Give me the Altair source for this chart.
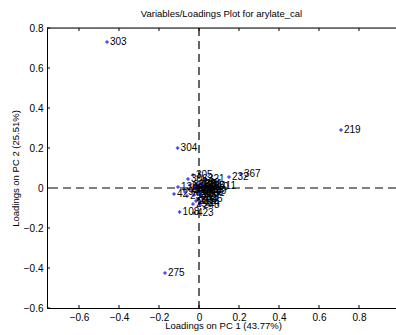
import altair as alt
import pandas as pd

# Variable loadings on the first two principal components
var_names = [
    "306", "303", "304", "219", "275", "367", "232", "305", "321", "411",
    "138", "42", "108", "423", "424", "427", "435", "12", "15", "27",
    "33", "48", "51", "310", "65", "71", "88", "94", "120", "144",
    "156", "167", "181", "199", "204", "215", "248", "256", "261",
    "293", "332", "345", "352", "378", "389",
]
pc1 = [
    -0.055, -0.46, -0.107, 0.71, -0.17, 0.21, 0.15, -0.03, 0.03, 0.09,
    -0.105, -0.125, -0.097, -0.025, 0.005, 0.01, 0.02, 0.0, 0.01, 0.02,
    -0.01, 0.03, 0.04, 0.05, -0.02, -0.035, -0.05, -0.07, 0.0, 0.015,
    0.005, -0.015, 0.02, -0.025, -0.005, -0.015, 0.005, -0.03, 0.03,
    -0.06, -0.01, 0.0, 0.03, -0.045, 0.04,
]
pc2 = [
    0.045, 0.73, 0.20, 0.29, -0.425, 0.07, 0.055, 0.065, 0.045, 0.01,
    0.005, -0.03, -0.12, -0.125, -0.075, -0.04, -0.055, 0.015, 0.0, -0.01,
    -0.02, 0.005, 0.015, 0.005, 0.0, -0.01, -0.005, -0.02, -0.03, -0.02,
    0.025, 0.02, 0.02, -0.035, -0.055, -0.065, -0.085, -0.08, -0.025,
    -0.04, 0.005, -0.01, -0.005, 0.015, -0.015,
]

x_ticks = [-0.6, -0.4, -0.2, 0.0, 0.2, 0.4, 0.6, 0.8]
y_ticks = [-0.6, -0.4, -0.2, 0.0, 0.2, 0.4, 0.6, 0.8]
x_domain = [-0.76, 0.985]
y_domain = [-0.6, 0.8]

df = pd.DataFrame({"name": var_names, "pc1": pc1, "pc2": pc2})

W, H = 349, 280
FONT = "Liberation Sans"
TICK_FMT = "datum.value == 0 ? '0' : format(datum.value, '.1f')"

xs = alt.Scale(domain=x_domain, nice=False, zero=False)
ys = alt.Scale(domain=y_domain, nice=False, zero=False)

x_axis = alt.Axis(values=x_ticks, ticks=False, grid=False, labelOverlap=False,
                  domainColor="black", labelColor="black", labelFontSize=10,
                  labelPadding=4, labelFont=FONT, title="Loadings on PC 1 (43.77%)",
                  titleFont=FONT, titleFontSize=9.5, titleFontWeight="normal",
                  titleColor="black", titleBaseline="middle",
                  titleX=176, titleY=17, labelExpr=TICK_FMT)
y_axis = alt.Axis(values=y_ticks, ticks=False, grid=False, labelOverlap=False,
                  domainColor="black", labelColor="black", labelFontSize=10,
                  labelPadding=4, labelFont=FONT, title="Loadings on PC 2 (25.51%)",
                  titleFont=FONT, titleFontSize=9.5, titleFontWeight="normal",
                  titleColor="black", titleBaseline="middle",
                  titleX=-32, titleY=H / 2, labelExpr=TICK_FMT)


def X(field):
    return alt.X(field, scale=xs, axis=x_axis)


def Y(field):
    return alt.Y(field, scale=ys, axis=y_axis)


base = alt.Chart(df)

points = base.mark_point(shape="cross", filled=True, size=12, color="#4040ff",
                         opacity=1).encode(x=X("pc1:Q"), y=Y("pc2:Q"))

labels = base.mark_text(align="left", baseline="middle", dx=3, fontSize=10,
                        font=FONT, color="black").encode(
    x=X("pc1:Q"), y=Y("pc2:Q"), text="name:N")

# Dashed zero lines
zero_df = pd.DataFrame({"z": [0.0]})
vline = alt.Chart(zero_df).mark_rule(color="black", strokeDash=[8, 5],
                                     strokeWidth=1.2).encode(x=X("z:Q"))
hline = alt.Chart(zero_df).mark_rule(color="black", strokeDash=[8, 5],
                                     strokeWidth=1.2).encode(y=Y("z:Q"))

# Inward-pointing tick marks on the frame
tick_len_x = 3 / H * (y_domain[1] - y_domain[0])
tick_len_y = 3 / W * (x_domain[1] - x_domain[0])
xt = pd.DataFrame({"v": x_ticks})
yt = pd.DataFrame({"v": y_ticks})
xt_bottom = alt.Chart(xt).transform_calculate(
    a=f"{y_domain[0]}", b=f"{y_domain[0] + tick_len_x}").mark_rule(
    color="black", strokeWidth=1).encode(x=X("v:Q"), y=Y("a:Q"), y2="b:Q")
xt_top = alt.Chart(xt).transform_calculate(
    a=f"{y_domain[1]}", b=f"{y_domain[1] - tick_len_x}").mark_rule(
    color="black", strokeWidth=1).encode(x=X("v:Q"), y=Y("a:Q"), y2="b:Q")
yt_left = alt.Chart(yt).transform_calculate(
    a=f"{x_domain[0]}", b=f"{x_domain[0] + tick_len_y}").mark_rule(
    color="black", strokeWidth=1).encode(y=Y("v:Q"), x=X("a:Q"), x2="b:Q")

# Top frame line
top_frame = alt.Chart(zero_df).mark_rule(color="black", strokeWidth=1).encode(
    x=alt.value(0), x2=alt.value(W), y=alt.value(0))

chart = alt.layer(
    points, vline, hline, xt_bottom, xt_top, yt_left, top_frame, labels
).properties(
    width=W, height=H,
    title=alt.TitleParams("Variables/Loadings Plot for arylate_cal",
                          font=FONT, fontSize=9.5, fontWeight="normal",
                          color="black", offset=5),
    autosize=alt.AutoSizeParams(type="none"),
    padding={"left": 47, "top": 28, "right": 0, "bottom": 27},
).configure_view(stroke=None).configure(background="white")

chart.save("out.html", embed_options={"renderer": "svg", "actions": False})
